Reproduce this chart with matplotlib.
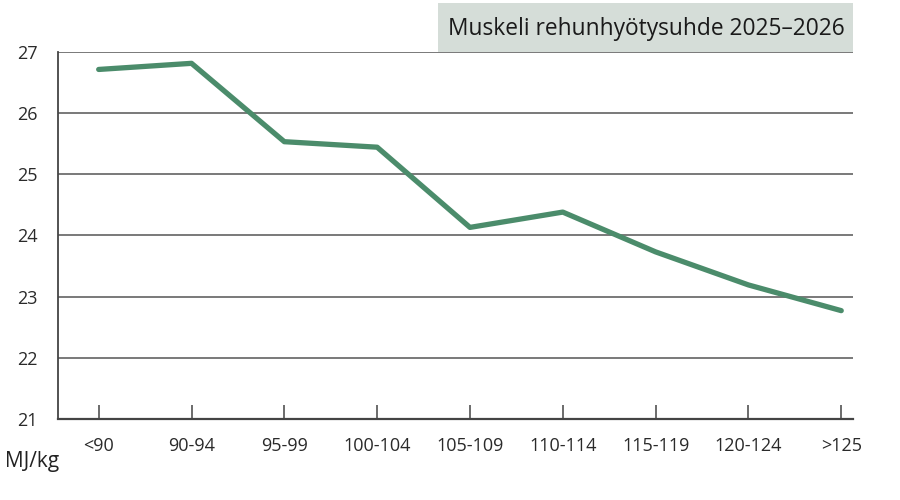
import matplotlib.pyplot as plt
from matplotlib.patches import Rectangle

plt.rcParams['font.family'] = ['Open Sans', 'DejaVu Sans']

categories = ['<90', '90-94', '95-99', '100-104', '105-109', '110-114', '115-119', '120-124', '>125']
values = [26.71, 26.81, 25.53, 25.44, 24.13, 24.38, 23.73, 23.19, 22.77]
y_ticks = [21, 22, 23, 24, 25, 26, 27]

fig = plt.figure(figsize=(9, 5), dpi=100)
ax = fig.add_axes([0.0648, 0.162, 0.8826, 0.7346])

# vaakaviivat
for t in y_ticks[1:]:
    ax.axhline(t, color='#555555', linewidth=1.1, zorder=1)

x = list(range(len(categories)))
ax.plot(x, values, color='#4b8c6b', linewidth=3.8, solid_capstyle='round',
        solid_joinstyle='round', zorder=3)

ax.set_xlim(-0.435, 8.123)
ax.set_ylim(21, 27)
ax.set_xticks(x)
ax.set_xticklabels(categories)
ax.set_yticks(y_ticks)

for side in ['top', 'right']:
    ax.spines[side].set_visible(False)
for side in ['left', 'bottom']:
    ax.spines[side].set_color('#444444')
ax.spines['left'].set_linewidth(1.3)
ax.spines['bottom'].set_linewidth(1.6)

ax.tick_params(axis='x', direction='in', length=10, width=1.1, color='#444444',
               pad=13, labelsize=13, labelcolor='#2a2a2a')
ax.tick_params(axis='y', length=0, pad=15, labelsize=13, labelcolor='#2a2a2a')

fig.text(5 / 900, 1 - 461 / 500, 'MJ/kg', fontsize=15, color='#222222',
         ha='left', va='center')

# otsikkolaatikko
fig.patches.append(Rectangle((438 / 900, 1 - 52 / 500), (853 - 438) / 900, 49 / 500,
                             transform=fig.transFigure, facecolor='#d5ddd8',
                             edgecolor='none', zorder=0))
fig.text(646 / 900, 1 - 29 / 500, 'Muskeli rehunhyötysuhde 2025–2026',
         fontsize=16.4, color='#1a1a1a', ha='center', va='center')

fig.savefig('out.png', dpi=100)
